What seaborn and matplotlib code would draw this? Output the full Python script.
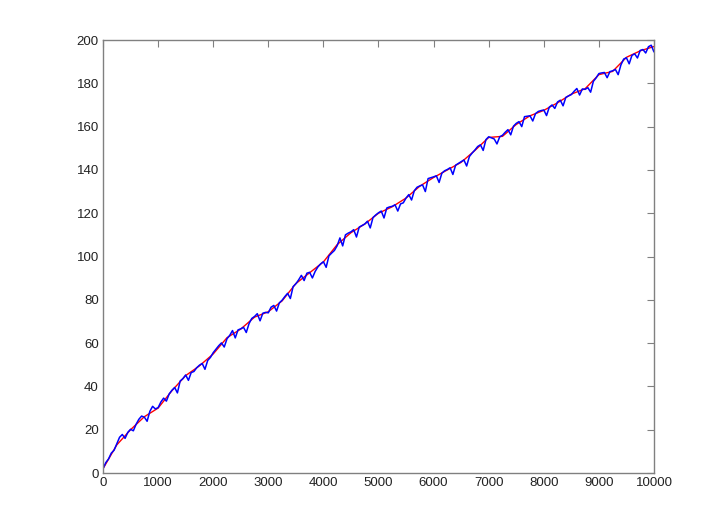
import numpy as np
import seaborn as sns
import matplotlib.pyplot as plt

# smooth (red) trace, read every 250 samples
red_x = list(range(0, 10001, 250))
red_y = [2.0, 13.0, 20.0, 26.0, 30.0, 38.0, 45.0, 49.5, 55.0, 62.5,
         66.5, 72.0, 74.5, 79.5, 87.5, 92.5, 97.5, 105.5, 111.0, 115.0,
         120.0, 123.0, 127.0, 132.5, 136.5, 140.0, 143.5, 149.0, 155.0, 155.5,
         161.0, 165.0, 167.5, 171.0, 175.0, 177.5, 184.0, 185.5, 192.0, 195.0,
         197.0]

# noisy (blue) trace, read every 50 samples
blue_x = list(range(0, 10001, 50))
blue_y = [
    2.0, 4.8, 6.5, 9.2, 10.5,
    13.5, 16.5, 17.8, 16.0, 18.8,
    20.2, 19.5, 22.5, 24.8, 26.3,
    25.8, 23.9, 28.5, 30.8, 29.6,
    30.2, 32.8, 34.6, 33.2, 36.5,
    38.2, 39.5, 37.0, 42.5, 43.6,
    45.3, 42.8, 46.4, 46.9, 48.6,
    49.8, 50.6, 47.9, 52.0, 53.4,
    55.6, 57.2, 58.8, 60.1, 58.2,
    62.0, 63.6, 65.8, 62.4, 66.1,
    66.6, 67.3, 64.9, 69.0, 71.4,
    72.3, 73.6, 70.3, 73.8, 74.2,
    74.0, 76.6, 77.4, 74.8, 78.6,
    79.8, 81.5, 83.0, 80.6, 86.1,
    87.4, 89.2, 91.3, 88.9, 92.3,
    92.7, 90.1, 93.1, 95.2, 96.6,
    97.6, 95.0, 100.3, 101.6, 102.8,
    105.0, 108.6, 104.9, 110.0, 110.8,
    111.4, 112.4, 109.0, 113.6, 114.3,
    115.0, 116.3, 113.2, 118.0, 119.2,
    120.2, 121.0, 117.8, 122.4, 122.9,
    123.2, 123.9, 121.0, 124.3, 124.8,
    127.0, 128.6, 126.1, 130.4, 132.0,
    132.6, 133.1, 130.0, 136.0, 136.4,
    136.8, 137.3, 134.2, 138.5, 139.6,
    140.2, 141.0, 137.9, 142.2, 143.0,
    143.8, 144.6, 141.8, 146.2, 147.8,
    149.2, 150.8, 151.6, 149.0, 154.0,
    155.3, 154.8, 154.3, 152.0, 155.3,
    156.0, 157.4, 158.6, 156.2, 160.2,
    161.5, 162.3, 160.0, 164.6, 164.8,
    165.0, 162.6, 166.0, 167.0, 167.4,
    167.7, 165.1, 169.0, 170.0, 168.4,
    171.4, 172.2, 169.6, 173.5, 174.2,
    174.8, 176.3, 177.6, 174.6, 177.4,
    177.2, 178.0, 175.9, 180.9, 182.5,
    184.5, 184.8, 185.0, 182.6, 185.4,
    185.8, 186.4, 184.0, 188.5, 191.2,
    191.8, 189.0, 192.9, 193.6, 191.7,
    195.2, 195.6, 194.0, 196.9, 197.6,
    194.5,
]

sns.set_style("white")
plt.rcParams['font.family'] = ['Liberation Sans', 'DejaVu Sans']

fig = plt.figure(figsize=(7.12, 5.19), dpi=100)
ax = fig.add_axes([0.1447, 0.0886, 0.9185 - 0.1447, 0.9229 - 0.0886])

sns.lineplot(x=red_x, y=red_y, ax=ax, color="#ff0000", linewidth=1.0,
             estimator=None, sort=False)
sns.lineplot(x=blue_x, y=blue_y, ax=ax, color="#0000ff", linewidth=1.1,
             estimator=None, sort=False)

ax.set_xlim(0, 10000)
ax.set_ylim(0, 200)
ax.set_xticks(np.arange(0, 10001, 1000))
ax.set_yticks(np.arange(0, 201, 20))

for s in ax.spines.values():
    s.set_visible(True)
    s.set_color("#808080")
    s.set_linewidth(1.0)
ax.tick_params(direction="in", length=5, width=0.8, color="#808080",
               top=True, right=True, labelsize=9.5, labelcolor="#222222", pad=3)

fig.savefig("out.png", dpi=100)
